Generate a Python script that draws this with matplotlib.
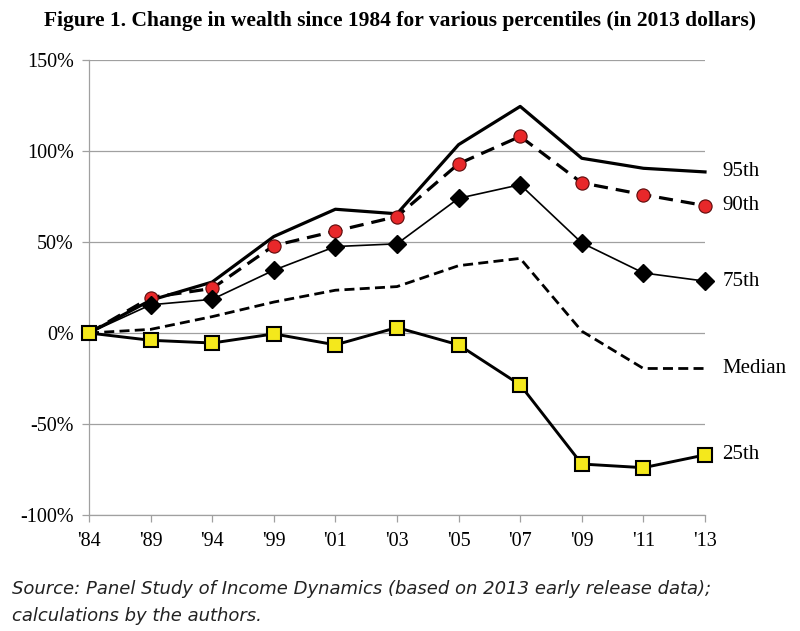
import matplotlib
matplotlib.use("Agg")
import matplotlib.pyplot as plt
from matplotlib.ticker import FuncFormatter

years = ["'84", "'89", "'94", "'99", "'01", "'03", "'05", "'07", "'09", "'11", "'13"]
p95 = [0, 18, 28, 53, 68, 65.5, 103.5, 124.5, 96, 90.5, 88.5]
p90 = [0, 19.5, 24.5, 48, 56, 64, 93, 108, 82.5, 76, 70]
p75 = [0, 15.5, 18.5, 34.5, 47.5, 49, 74, 81.5, 49.5, 33, 28.5]
median = [0, 2, 9, 17, 23.5, 25.5, 37, 41, 1, -19.5, -19.5]
p25 = [0, -4, -5.5, -0.5, -6.5, 3, -6.5, -28.5, -72, -74, -67]
series_labels = ["95th", "90th", "75th", "Median", "25th"]
source_lines = ["Source: Panel Study of Income Dynamics (based on 2013 early release data);",
                "calculations by the authors."]

serif = "Liberation Serif"

fig = plt.figure(figsize=(8, 6.31), dpi=100)
ax = fig.add_axes([89 / 800, 1 - 515 / 631, 616 / 800, 455 / 631])
x = list(range(len(years)))

ax.plot(x, p95, color="black", lw=2.3, zorder=3, clip_on=False)
ax.plot(x, p90, color="black", lw=2.3, ls=(0, (4.4, 2.5)), marker="o", ms=9.5,
        mfc="#e8282a", mec="#5a0a0a", mew=0.8, markevery=list(range(1, len(x))),
        zorder=4, clip_on=False)
ax.plot(x, p75, color="black", lw=1.2, marker="D", ms=9.5, mfc="black", mec="black",
        markevery=list(range(1, len(x))), zorder=4, clip_on=False)
ax.plot(x, median, color="black", lw=2.0, ls=(0, (3.6, 1.9)), zorder=3, clip_on=False)
ax.plot(x, p25, color="black", lw=2.1, marker="s", ms=9.5, mfc="#f4e81c", mec="black",
        mew=1.5, zorder=5, clip_on=False)

ax.set_xlim(0, len(years) - 1)
ax.set_ylim(-100, 150)
ax.set_yticks([-100, -50, 0, 50, 100, 150])
ax.yaxis.set_major_formatter(FuncFormatter(lambda v, p: f"{int(v)}%"))
ax.set_xticks(x)
ax.set_xticklabels(years)
ax.grid(axis="y", color="#a0a0a0", lw=0.9, zorder=0)
ax.set_axisbelow(True)
for s in ["top", "right"]:
    ax.spines[s].set_visible(False)
for s in ["left", "bottom"]:
    ax.spines[s].set_color("#a0a0a0")
    ax.spines[s].set_linewidth(0.9)
ax.tick_params(axis="both", color="#a0a0a0", length=5, width=0.9, labelsize=14.5)
ax.tick_params(axis="x", pad=7)
ax.tick_params(axis="y", pad=6)
for lab in ax.get_xticklabels() + ax.get_yticklabels():
    lab.set_fontfamily(serif)

ends = [p95[-1], p90[-1], p75[-1], median[-1], p25[-1]]
for lab, v in zip(series_labels, ends):
    ax.annotate(lab, xy=(x[-1], v), xytext=(12.5, 0), textcoords="offset points",
                ha="left", va="center", fontsize=15, family=serif, annotation_clip=False)

fig.text(0.5, 1 - 21 / 631, "Figure 1. Change in wealth since 1984 for various percentiles (in 2013 dollars)",
         ha="center", va="center", fontsize=15.5, fontweight="bold", family=serif)
for line, yb in zip(source_lines, [594, 621]):
    fig.text(12 / 800, 1 - yb / 631, line, ha="left", va="baseline", style="italic",
             color="#222222", fontsize=13, family="DejaVu Sans")

fig.savefig("out.png", dpi=100)
